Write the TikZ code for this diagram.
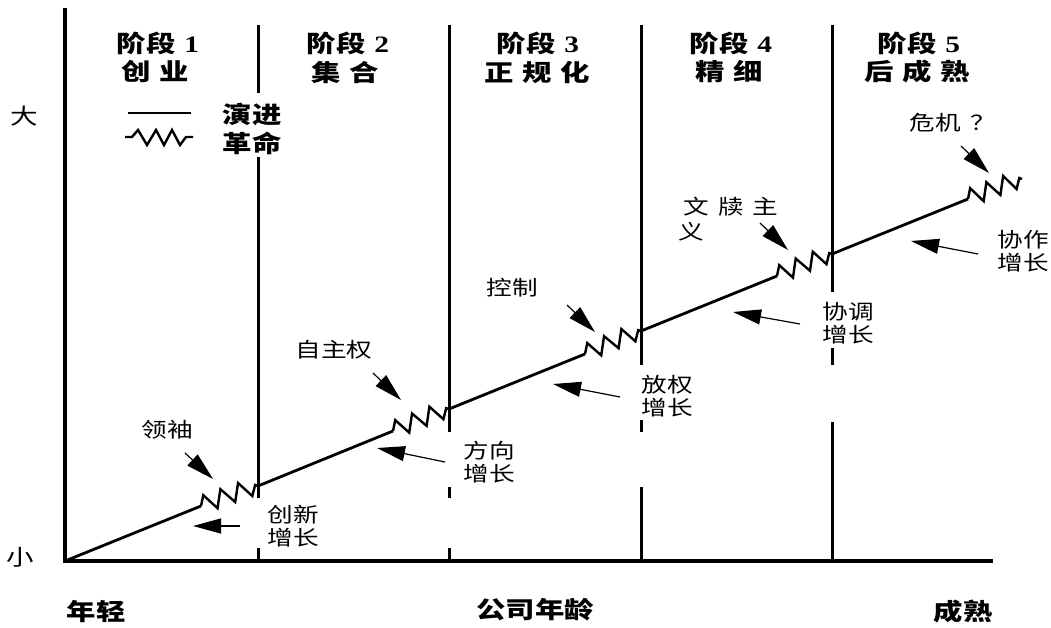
\documentclass[tikz,border=0pt]{standalone}
\usepackage{fontspec}
\usetikzlibrary{arrows.meta,calc}
\newfontfamily\cjk{Noto Sans CJK SC}
\newfontfamily\numf{Liberation Serif}
% glyphs are set a little wider than square
\newcommand\W[1]{\scalebox{1.25}[1]{#1}}
% sawtooth "revolution" segment between two named points
\newcommand\zigpath[2]{%
  \draw[zig] (#1) -- ($(#1)!0.04!(#2)+(0,-10)$) -- ($(#1)!0.29!(#2)+(0,8)$)
    -- ($(#1)!0.34!(#2)+(0,-10)$) -- ($(#1)!0.60!(#2)+(0,8)$)
    -- ($(#1)!0.65!(#2)+(0,-10)$) -- ($(#1)!0.90!(#2)+(0,8)$)
    -- ($(#1)!0.95!(#2)+(0,-2)$) -- (#2);}
\begin{document}
\begin{tikzpicture}[x=1pt,y=-1pt,
  axis/.style={line width=4pt},
  stage/.style={line width=3pt},
  growth/.style={line width=2.8pt},
  zig/.style={line width=2.4pt, line join=miter},
  ptr/.style={line width=1.2pt, -{Triangle[length=28pt,width=15pt]}},
  head/.style={inner sep=0pt, font=\cjk\bfseries\fontsize{23.5}{29}\selectfont},
  lab/.style={inner sep=0pt, font=\cjk\fontsize{20.5}{23}\selectfont, align=left},
]
\useasboundingbox (0,0) rectangle (1051,628);

% axes
\coordinate (org) at (65,561);
\coordinate (ytop) at (65,8);
\coordinate (xend) at (993,561);
\draw[axis] (ytop) -- (org) -- (xend);

% stage boundaries (broken where labels sit)
\draw[stage] (258,25) -- (258,93) (258,157) -- (258,498) (258,548) -- (258,561);
\draw[stage] (449,25) -- (449,432) (449,487) -- (449,498) (449,548) -- (449,561);
\draw[stage] (641,25) -- (641,365) (641,420) -- (641,432) (641,487) -- (641,561);
\draw[stage] (832,25) -- (832,292) (832,348) -- (832,365) (832,422) -- (832,561);

% stage headings
\node[head] (s1) at (158,43) {\W{阶段\hspace{0.3em}{\numf 1}}};
\node[head] (n1) at (155,72) {\W{创\hspace{0.3em}业}};
\node[head] (s2) at (348,43) {\W{阶段\hspace{0.3em}{\numf 2}}};
\node[head] (n2) at (345,72) {\W{集\hspace{0.3em}合}};
\node[head] (s3) at (538,43) {\W{阶段\hspace{0.3em}{\numf 3}}};
\node[head] (n3) at (537,72) {\W{正\hspace{0.3em}规\hspace{0.3em}化}};
\node[head] (s4) at (731,43) {\W{阶段\hspace{0.3em}{\numf 4}}};
\node[head] (n4) at (729,72) {\W{精\hspace{0.3em}细}};
\node[head] (s5) at (919,43) {\W{阶段\hspace{0.3em}{\numf 5}}};
\node[head] (n5) at (917,72) {\W{后\hspace{0.3em}成\hspace{0.3em}熟}};

% legend
\coordinate (la) at (128,113);
\coordinate (lb) at (191,113);
\draw[line width=2.5pt] (la) -- (lb);
\draw[zig] (125,137) -- (132,137) -- (138,130) -- (147,145) -- (156,130)
  -- (164,145) -- (172,130) -- (180,145) -- (186,137) -- (193,137);
\node[head] (evo) at (252,115) {\W{演进}};
\node[head] (rev) at (252,143) {\W{革命}};

% axis words
\node[lab, font=\cjk\fontsize{22}{22}\selectfont] (big) at (24,116) {\W{大}};
\node[lab, font=\cjk\fontsize{22}{22}\selectfont] (small) at (20,557) {\W{小}};
\node[head] (young) at (96,612) {\W{年轻}};
\node[head] (age) at (535,610) {\W{公司年龄}};
\node[head] (mature) at (963,612) {\W{成熟}};

% growth path: evolution lines and revolution sawtooth
\coordinate (z1s) at (201,506); \coordinate (z1e) at (258,486);
\coordinate (z2s) at (393,431); \coordinate (z2e) at (449,409);
\coordinate (z3s) at (585,354); \coordinate (z3e) at (641,331);
\coordinate (z4s) at (777,276); \coordinate (z4e) at (832,254);
\coordinate (z5s) at (968,199); \coordinate (z5e) at (1022,179);
\draw[growth] (org) -- (z1s);
\draw[growth] (z1e) -- (z2s);
\draw[growth] (z2e) -- (z3s);
\draw[growth] (z3e) -- (z4s);
\draw[growth] (z4e) -- (z5s);
\zigpath{z1s}{z1e}
\zigpath{z2s}{z2e}
\zigpath{z3s}{z3e}
\zigpath{z4s}{z4e}
\zigpath{z5s}{z5e}

% crisis labels
\node[lab] (c1) at (167,430) {\W{领袖}};
\node[lab] (c2) at (334,350) {\W{自主权}};
\node[lab] (c3) at (512,288) {\W{控制}};
\node[lab] (c4a) at (731,207) {\W{文\hspace{0.35em}牍\hspace{0.35em}主}};
\node[lab] (c4b) at (691,232) {\W{义}};
\node[lab] (c5) at (953,123) {\W{危机\hspace{0.4em}？}};

\coordinate (c1t) at (185,453); \coordinate (c1h) at (213,479);
\coordinate (c2t) at (373,373); \coordinate (c2h) at (401,400);
\coordinate (c3t) at (567,305); \coordinate (c3h) at (595,332);
\coordinate (c4t) at (760,223); \coordinate (c4h) at (788,250);
\coordinate (c5t) at (961,146); \coordinate (c5h) at (989,173);
\draw[ptr] (c1t) -- (c1h);
\draw[ptr] (c2t) -- (c2h);
\draw[ptr] (c3t) -- (c3h);
\draw[ptr] (c4t) -- (c4h);
\draw[ptr] (c5t) -- (c5h);

% growth labels
\node[lab] (g1) at (293,526) {\W{创新}\\\W{增长}};
\node[lab] (g2) at (489,462) {\W{方向}\\\W{增长}};
\node[lab] (g3) at (667,396) {\W{放权}\\\W{增长}};
\node[lab] (g4) at (848,323) {\W{协调}\\\W{增长}};
\node[lab] (g5) at (1023,251) {\W{协作}\\\W{增长}};

\coordinate (g1t) at (240,526); \coordinate (g1h) at (193,526);
\coordinate (g2t) at (445,462); \coordinate (g2h) at (377,448);
\coordinate (g3t) at (620,397); \coordinate (g3h) at (553,384);
\coordinate (g4t) at (800,324); \coordinate (g4h) at (733,312);
\coordinate (g5t) at (978,254); \coordinate (g5h) at (911,241);
\draw[ptr] (g1t) -- (g1h);
\draw[ptr] (g2t) -- (g2h);
\draw[ptr] (g3t) -- (g3h);
\draw[ptr] (g4t) -- (g4h);
\draw[ptr] (g5t) -- (g5h);
\end{tikzpicture}
\end{document}
